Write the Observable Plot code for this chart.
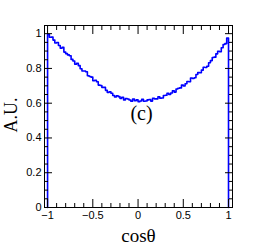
<!DOCTYPE html>
<html>
<head>
<meta charset="utf-8">
<script src="https://cdn.jsdelivr.net/npm/d3@7"></script>
<script src="https://cdn.jsdelivr.net/npm/@observablehq/plot@0.6"></script>
<style>
  html, body { margin: 0; padding: 0; background: #fff; }
  #chart svg { display: block; }
</style>
</head>
<body>
<div id="chart"></div>
<script>
// Histogram bin lower edges (width 0.02) and normalized contents
const binWidth = 0.02;
const binLow = d3.range(-1, 0.999, binWidth);
const counts = [
  0.995, 0.979, 0.980, 0.963, 0.946, 0.949, 0.932, 0.916, 0.921, 0.894,
  0.885, 0.878, 0.873, 0.852, 0.843, 0.824, 0.829, 0.816, 0.798, 0.785,
  0.785, 0.781, 0.758, 0.754, 0.750, 0.729, 0.732, 0.723, 0.704, 0.702,
  0.691, 0.691, 0.674, 0.662, 0.666, 0.657, 0.644, 0.636, 0.643, 0.638,
  0.628, 0.634, 0.619, 0.627, 0.624, 0.618, 0.611, 0.624, 0.614, 0.619,
  0.609, 0.613, 0.622, 0.611, 0.613, 0.619, 0.621, 0.612, 0.628, 0.625,
  0.625, 0.637, 0.629, 0.630, 0.644, 0.646, 0.657, 0.650, 0.659, 0.672,
  0.664, 0.682, 0.686, 0.688, 0.704, 0.699, 0.712, 0.725, 0.723, 0.745,
  0.742, 0.746, 0.765, 0.776, 0.775, 0.790, 0.807, 0.805, 0.813, 0.833,
  0.845, 0.863, 0.865, 0.884, 0.899, 0.896, 0.919, 0.938, 0.943, 0.975
];
const xTicks = [-1, -0.5, 0, 0.5, 1];
const xMinor = [-0.9, -0.8, -0.7, -0.6, -0.4, -0.3, -0.2, -0.1, 0.1, 0.2, 0.3, 0.4, 0.6, 0.7, 0.8, 0.9];
const yTicks = [0, 0.2, 0.4, 0.6, 0.8, 1];
const yMinor = [0.05, 0.1, 0.15, 0.25, 0.3, 0.35, 0.45, 0.5, 0.55, 0.65, 0.7, 0.75, 0.85, 0.9, 0.95];
const xTitle = "cosθ";
const yTitle = "A.U.";
const panelTag = "(c)";

const pts = [{x: binLow[0], y: 0}];
binLow.forEach((x, i) => pts.push({x, y: counts[i]}));
pts.push({x: binLow[binLow.length - 1] + binWidth, y: counts[counts.length - 1]});
pts.push({x: binLow[binLow.length - 1] + binWidth, y: 0});

const fmt = d => (d < 0 ? "\u2212" + (-d) : String(d));
const sans = "Liberation Sans, Arial, sans-serif";
const serif = "Liberation Serif, Times New Roman, serif";

const chart = Plot.plot({
  width: 258,
  height: 250,
  marginLeft: 44,
  marginRight: 26,
  marginTop: 25,
  marginBottom: 43,
  style: {fontFamily: sans, background: "white", color: "black"},
  x: {domain: [-1.034, 1.044]},
  y: {domain: [0, 1.047]},
  marks: [
    Plot.line(pts, {x: "x", y: "y", curve: "step-after", stroke: "#0000ff", strokeWidth: 1.6}),
    // tick labels
    Plot.axisX({anchor: "bottom", ticks: xTicks, tickSize: 0, tickPadding: 4, tickFormat: fmt, fontSize: 11, label: null}),
    Plot.axisY({anchor: "left", ticks: yTicks, tickSize: 0, tickPadding: 3, tickFormat: fmt, fontSize: 11, label: null}),
    // inward ticks, all four sides
    Plot.axisX({anchor: "bottom", ticks: xTicks, tickSize: -8, text: null, label: null}),
    Plot.axisX({anchor: "bottom", ticks: xMinor, tickSize: -4, text: null, label: null}),
    Plot.axisX({anchor: "top", ticks: xTicks, tickSize: -8, text: null, label: null}),
    Plot.axisX({anchor: "top", ticks: xMinor, tickSize: -4, text: null, label: null}),
    Plot.axisY({anchor: "left", ticks: yTicks, tickSize: -8, text: null, label: null}),
    Plot.axisY({anchor: "left", ticks: yMinor, tickSize: -4, text: null, label: null}),
    Plot.axisY({anchor: "right", ticks: yTicks, tickSize: -8, text: null, label: null}),
    Plot.axisY({anchor: "right", ticks: yMinor, tickSize: -4, text: null, label: null}),
    Plot.frame({stroke: "black", strokeWidth: 1}),
    // titles
    Plot.text([xTitle], {text: d => d, frameAnchor: "bottom", textAnchor: "middle", dy: 34, lineAnchor: "bottom", fontSize: 19, fontFamily: serif, fill: "black"}),
    Plot.text([yTitle], {text: d => d, frameAnchor: "left", textAnchor: "middle", rotate: -90, dx: -28, dy: -1.5, lineAnchor: "bottom", fontSize: 18, fontFamily: serif, fill: "black"}),
    Plot.text([panelTag], {text: d => d, frameAnchor: "middle", textAnchor: "middle", dx: 3, dy: 3, lineAnchor: "bottom", fontSize: 20, fontFamily: serif, fill: "black"})
  ]
});
document.getElementById("chart").appendChild(chart);
</script>
</body>
</html>
